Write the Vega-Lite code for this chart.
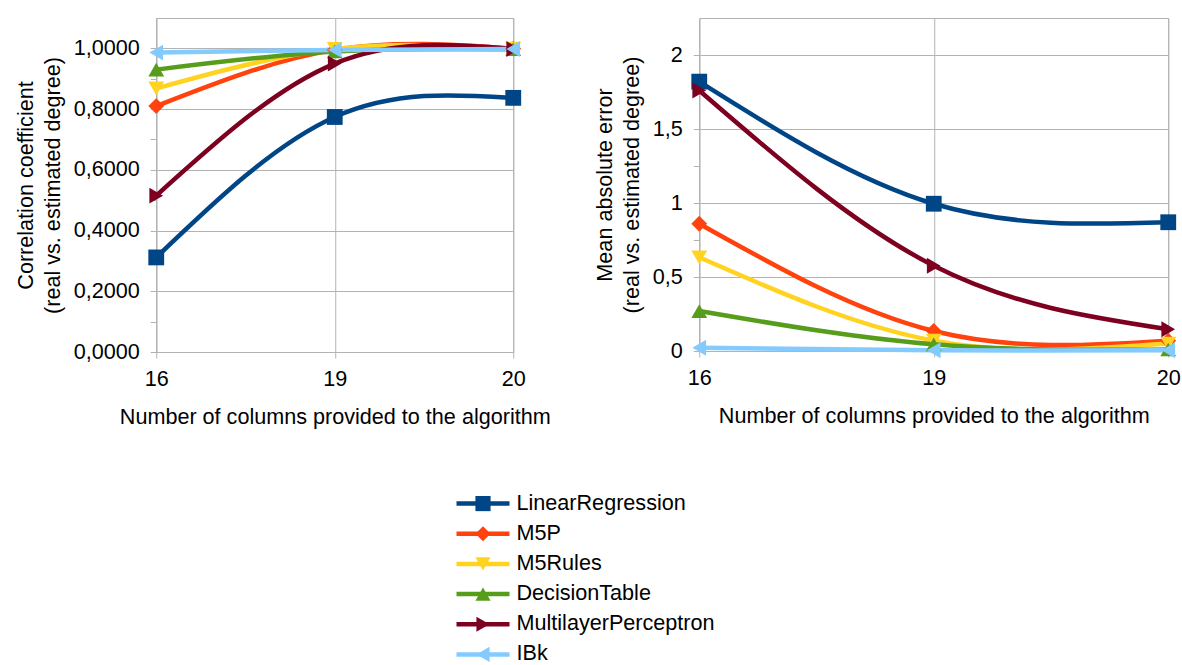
{
  "$schema": "https://vega.github.io/schema/vega-lite/v6.json",
  "background": "white",
  "padding": {"left": 14, "top": 17, "right": 0, "bottom": 0},
  "spacing": 63,
  "center": true,
  "config": {
    "font": "Liberation Sans",
    "view": {"stroke": "#b3b3b3", "strokeWidth": 1},
    "axis": {
      "labelFont": "Liberation Sans",
      "labelFontSize": 21.6,
      "labelColor": "#000000",
      "titleFont": "Liberation Sans",
      "titleFontSize": 21.6,
      "titleFontWeight": "normal",
      "titleColor": "#000000",
      "domainColor": "#b3b3b3",
      "tickColor": "#b3b3b3",
      "gridColor": "#b3b3b3",
      "tickSize": 6
    }
  },
  "datasets": {
    "results": [
      {"alg": "LinearRegression", "cols": 16, "corr": 0.3115, "mae": 1.82},
      {"alg": "LinearRegression", "cols": 19, "corr": 0.774, "mae": 0.995},
      {"alg": "LinearRegression", "cols": 20, "corr": 0.837, "mae": 0.87},
      {"alg": "M5P", "cols": 16, "corr": 0.81, "mae": 0.86},
      {"alg": "M5P", "cols": 19, "corr": 0.995, "mae": 0.135},
      {"alg": "M5P", "cols": 20, "corr": 0.999, "mae": 0.07},
      {"alg": "M5Rules", "cols": 16, "corr": 0.868, "mae": 0.633},
      {"alg": "M5Rules", "cols": 19, "corr": 0.998, "mae": 0.07},
      {"alg": "M5Rules", "cols": 20, "corr": 0.999, "mae": 0.05},
      {"alg": "DecisionTable", "cols": 16, "corr": 0.93, "mae": 0.27},
      {"alg": "DecisionTable", "cols": 19, "corr": 0.99, "mae": 0.045},
      {"alg": "DecisionTable", "cols": 20, "corr": 0.997, "mae": 0.01},
      {"alg": "MultilayerPerceptron", "cols": 16, "corr": 0.515, "mae": 1.76},
      {"alg": "MultilayerPerceptron", "cols": 19, "corr": 0.95, "mae": 0.576},
      {"alg": "MultilayerPerceptron", "cols": 20, "corr": 0.998, "mae": 0.147},
      {"alg": "IBk", "cols": 16, "corr": 0.986, "mae": 0.022},
      {"alg": "IBk", "cols": 19, "corr": 0.995, "mae": 0.005},
      {"alg": "IBk", "cols": 20, "corr": 0.998, "mae": 0.005}
    ]
  },
  "data": {"name": "results"},
  "vconcat": [
    {
      "spacing": 42,
      "hconcat": [
        {
          "width": 357,
          "height": 334,
          "encoding": {
            "x": {
              "field": "cols", "type": "ordinal", "sort": "ascending",
              "scale": {"type": "point", "padding": 0},
              "axis": {"title": "Number of columns provided to the algorithm", "labelAngle": 0, "labelPadding": 10, "titlePadding": 17, "grid": true, "domain": true}
            },
            "y": {
              "field": "corr", "type": "quantitative",
              "scale": {"domain": [0, 1.1], "nice": false, "zero": true},
              "axis": {
                "title": ["Correlation coefficient", "(real vs. estimated degree)"],
                "titleLineHeight": 27,
                "titlePadding": 9,
                "labelPadding": 11,
                "values": [0, 0.1, 0.2, 0.3, 0.4, 0.5, 0.6, 0.7, 0.8, 0.9, 1.0],
                "labelExpr": "round(datum.value*10) % 2 == 0 ? replace(format(datum.value, '.4f'), '.', ',') : ''",
                "gridOpacity": {"condition": {"test": "round(datum.value*10) % 2 == 0", "value": 1}, "value": 0}
              }
            },
            "color": {"field": "alg", "type": "nominal",
              "scale": {"domain": ["LinearRegression", "M5P", "M5Rules", "DecisionTable", "MultilayerPerceptron", "IBk"],
                        "range": ["#004586", "#ff420e", "#ffd320", "#579d1c", "#7e0021", "#83caff"]},
              "legend": null}
          },
          "layer": [
            {"mark": {"type": "line", "interpolate": "natural", "strokeWidth": 4.5}},
            {
              "mark": {"type": "point", "filled": true, "opacity": 1, "size": 250},
              "encoding": {
                "shape": {"field": "alg", "type": "nominal",
                  "scale": {"domain": ["LinearRegression", "M5P", "M5Rules", "DecisionTable", "MultilayerPerceptron", "IBk"],
                            "range": ["square", "diamond", "triangle-down", "triangle-up", "triangle-right", "triangle-left"]},
                  "legend": null}
              }
            }
          ]
        },
        {
          "width": 469,
          "height": 333,
          "encoding": {
            "x": {
              "field": "cols", "type": "ordinal", "sort": "ascending",
              "scale": {"type": "point", "padding": 0},
              "axis": {"title": "Number of columns provided to the algorithm", "labelAngle": 0, "labelPadding": 10, "titlePadding": 17, "grid": true, "domain": true}
            },
            "y": {
              "field": "mae", "type": "quantitative",
              "scale": {"domain": [0, 2.25], "nice": false, "zero": true},
              "axis": {
                "title": ["Mean absolute error", "(real vs. estimated degree)"],
                "titleLineHeight": 27,
                "titlePadding": 9,
                "labelPadding": 11,
                "values": [0, 0.25, 0.5, 0.75, 1, 1.25, 1.5, 1.75, 2],
                "labelExpr": "round(datum.value*4) % 2 == 0 ? replace(format(datum.value, '~g'), '.', ',') : ''",
                "gridOpacity": {"condition": {"test": "round(datum.value*4) % 2 == 0", "value": 1}, "value": 0}
              }
            },
            "color": {"field": "alg", "type": "nominal", "legend": null}
          },
          "layer": [
            {"mark": {"type": "line", "interpolate": "natural", "strokeWidth": 4.5}},
            {
              "mark": {"type": "point", "filled": true, "opacity": 1, "size": 250},
              "encoding": {"shape": {"field": "alg", "type": "nominal", "legend": null}}
            }
          ]
        }
      ]
    },
    {
      "width": 424,
      "height": 172,
      "view": {"stroke": null},
      "transform": [{"filter": "datum.cols == 16"}],
      "encoding": {
        "y": {"field": "alg", "type": "nominal",
          "sort": ["LinearRegression", "M5P", "M5Rules", "DecisionTable", "MultilayerPerceptron", "IBk"],
          "scale": {"type": "point", "padding": 0.35}, "axis": null},
        "color": {"field": "alg", "type": "nominal", "legend": null}
      },
      "layer": [
        {
          "mark": {"type": "rule", "strokeWidth": 4.5},
          "encoding": {
            "x": {"datum": 0, "type": "quantitative", "scale": {"domain": [0, 1]}, "axis": null},
            "x2": {"datum": 0.125}
          }
        },
        {
          "mark": {"type": "point", "filled": true, "opacity": 1, "size": 230},
          "encoding": {
            "x": {"datum": 0.0625, "type": "quantitative"},
            "shape": {"field": "alg", "type": "nominal", "legend": null}
          }
        },
        {
          "mark": {"type": "text", "align": "left", "baseline": "middle", "font": "Liberation Sans", "fontSize": 21.6, "color": "#000000"},
          "encoding": {
            "x": {"datum": 0.1415, "type": "quantitative"},
            "text": {"field": "alg"},
            "color": {"value": "#000000"}
          }
        }
      ]
    }
  ]
}
